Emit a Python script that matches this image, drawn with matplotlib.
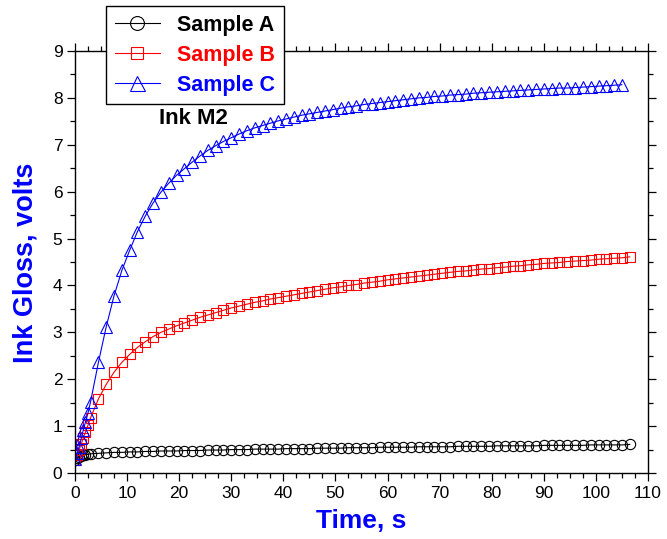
import matplotlib
matplotlib.use("Agg")
import matplotlib.pyplot as plt
from matplotlib.ticker import MultipleLocator

plt.rcParams["font.family"] = ["Liberation Sans", "DejaVu Sans"]

# sample times (s)
time_ab = [0, 0.4, 0.8, 1.2, 1.6, 2.0, 2.5, 3.0,
           4.5, 6, 7.5, 9, 10.5, 12, 13.5, 15, 16.5, 18, 19.5, 21, 22.5, 24,
           25.5, 27, 28.5, 30, 31.5, 33, 34.5, 36, 37.5, 39, 40.5, 42, 43.5,
           45, 46.5, 48, 49.5, 51, 52.5, 54, 55.5, 57, 58.5, 60, 61.5, 63,
           64.5, 66, 67.5, 69, 70.5, 72, 73.5, 75, 76.5, 78, 79.5, 81, 82.5,
           84, 85.5, 87, 88.5, 90, 91.5, 93, 94.5, 96, 97.5, 99, 100.5, 102,
           103.5, 105, 106.5]
time_c = [0, 0.4, 0.8, 1.2, 1.6, 2.0, 2.5, 3.0,
          4.5, 6, 7.5, 9, 10.5, 12, 13.5, 15, 16.5, 18, 19.5, 21, 22.5, 24,
          25.5, 27, 28.5, 30, 31.5, 33, 34.5, 36, 37.5, 39, 40.5, 42, 43.5,
          45, 46.5, 48, 49.5, 51, 52.5, 54, 55.5, 57, 58.5, 60, 61.5, 63,
          64.5, 66, 67.5, 69, 70.5, 72, 73.5, 75, 76.5, 78, 79.5, 81, 82.5,
          84, 85.5, 87, 88.5, 90, 91.5, 93, 94.5, 96, 97.5, 99, 100.5, 102,
          103.5, 105]

# ink gloss (volts)
gloss_a = [0.28, 0.32, 0.35, 0.37, 0.38, 0.39, 0.40, 0.41,
           0.42, 0.43, 0.44, 0.44, 0.45, 0.45, 0.46, 0.46, 0.47, 0.47, 0.47,
           0.48, 0.48, 0.48, 0.49, 0.49, 0.49, 0.50, 0.50, 0.50, 0.51, 0.51,
           0.51, 0.51, 0.52, 0.52, 0.52, 0.52, 0.53, 0.53, 0.53, 0.53, 0.54,
           0.54, 0.54, 0.54, 0.55, 0.55, 0.55, 0.55, 0.55, 0.56, 0.56, 0.56,
           0.56, 0.56, 0.57, 0.57, 0.57, 0.57, 0.57, 0.58, 0.58, 0.58, 0.58,
           0.58, 0.58, 0.59, 0.59, 0.59, 0.59, 0.59, 0.59, 0.60, 0.60, 0.60,
           0.60, 0.60, 0.61]
gloss_b = [0.28, 0.38, 0.50, 0.62, 0.75, 0.87, 1.02, 1.18,
           1.58, 1.89, 2.15, 2.36, 2.53, 2.68, 2.80, 2.91, 3.00, 3.07, 3.14,
           3.20, 3.26, 3.32, 3.37, 3.42, 3.47, 3.52, 3.56, 3.60, 3.64, 3.67,
           3.71, 3.74, 3.77, 3.80, 3.83, 3.86, 3.89, 3.92, 3.95, 3.97, 4.00,
           4.02, 4.05, 4.07, 4.09, 4.12, 4.14, 4.16, 4.18, 4.20, 4.22, 4.24,
           4.26, 4.28, 4.30, 4.31, 4.33, 4.35, 4.36, 4.38, 4.39, 4.41, 4.42,
           4.44, 4.45, 4.47, 4.48, 4.49, 4.51, 4.52, 4.53, 4.54, 4.56, 4.57,
           4.58, 4.59, 4.61]
gloss_c = [0.30, 0.42, 0.56, 0.74, 0.92, 1.08, 1.28, 1.52,
           2.36, 3.12, 3.78, 4.32, 4.75, 5.15, 5.48, 5.76, 5.99, 6.18, 6.35,
           6.49, 6.63, 6.76, 6.88, 6.98, 7.07, 7.15, 7.23, 7.30, 7.36, 7.41,
           7.46, 7.51, 7.55, 7.59, 7.63, 7.66, 7.69, 7.72, 7.75, 7.78, 7.81,
           7.83, 7.86, 7.88, 7.90, 7.92, 7.94, 7.96, 7.98, 8.00, 8.01, 8.03,
           8.04, 8.06, 8.07, 8.08, 8.10, 8.11, 8.12, 8.13, 8.14, 8.15, 8.16,
           8.17, 8.18, 8.19, 8.20, 8.21, 8.21, 8.22, 8.23, 8.24, 8.25, 8.26,
           8.27, 8.28]

fig = plt.figure(figsize=(6.67, 5.39), dpi=100)
ax = fig.add_axes([0.1124, 0.1224, 0.8591, 0.783])

ax.plot(time_ab, gloss_a, color="black", marker="o", markersize=7.4,
        markerfacecolor="none", markeredgewidth=0.8, linewidth=0.8, label="Sample A")
ax.plot(time_ab, gloss_b, color="red", marker="s", markersize=6.5,
        markerfacecolor="none", markeredgewidth=0.8, linewidth=0.8, label="Sample B")
ax.plot(time_c, gloss_c, color="blue", marker="^", markersize=8,
        markerfacecolor="none", markeredgewidth=0.8, linewidth=0.8, label="Sample C")

ax.set_xlim(0, 110)
ax.set_ylim(0, 9)
ax.xaxis.set_major_locator(MultipleLocator(10))
ax.xaxis.set_minor_locator(MultipleLocator(2.5))
ax.yaxis.set_major_locator(MultipleLocator(1))
ax.yaxis.set_minor_locator(MultipleLocator(0.5))
ax.tick_params(which="both", direction="out", top=True, right=True,
               width=0.9, labelsize=12.5, pad=3)
ax.tick_params(which="major", length=6)
ax.tick_params(which="minor", length=3.5)
for spine in ax.spines.values():
    spine.set_linewidth(1.0)

ax.set_xlabel("Time, s", fontsize=19, fontweight="bold", color="blue")
ax.set_ylabel("Ink Gloss, volts", fontsize=19.5, fontweight="bold", color="blue")
ax.xaxis.label.set_va("center")
ax.yaxis.label.set_va("center")
ax.xaxis.set_label_coords(0.5, -0.114)
ax.yaxis.set_label_coords(-0.086, 0.498)

ax.text(22.8, 7.55, "Ink M2", fontsize=16, fontweight="bold", ha="center", va="center")

leg = ax.legend(loc="upper left", bbox_to_anchor=(106 / 667, 1 - 6 / 539),
                bbox_transform=fig.transFigure, borderaxespad=0,
                prop={"size": 15.5, "weight": "bold"}, labelcolor="linecolor",
                fancybox=False, framealpha=1, edgecolor="black",
                markerscale=1.35, handlelength=2.1, handletextpad=0.8,
                borderpad=0.4, labelspacing=0.42)
leg.get_frame().set_linewidth(1.0)

fig.savefig("out.png", dpi=100)
plt.close(fig)
